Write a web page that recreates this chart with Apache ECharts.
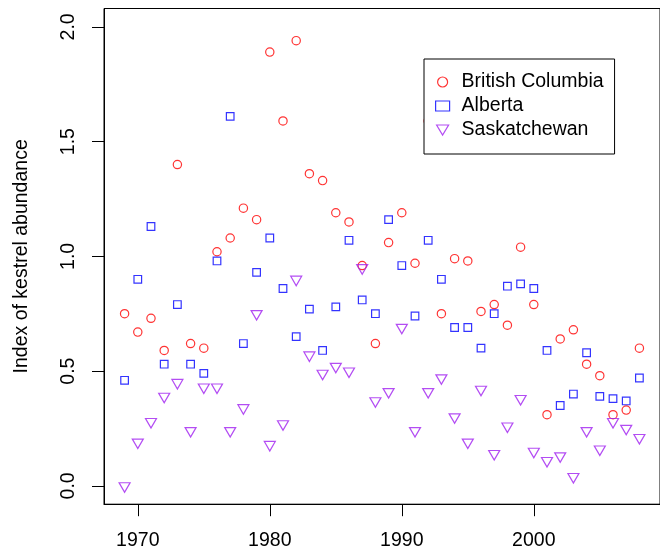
<!DOCTYPE html>
<html>
<head>
<meta charset="utf-8">
<script src="https://cdn.jsdelivr.net/npm/echarts@6/dist/echarts.min.js"></script>
<style>
  html, body { margin: 0; padding: 0; background: #fff; }
  #chart { width: 660px; height: 552px; }
</style>
</head>
<body>
<div id="chart"></div>
<script>
// Survey years
const years = [
  1969, 1970, 1971, 1972, 1973, 1974, 1975, 1976, 1977, 1978,
  1979, 1980, 1981, 1982, 1983, 1984, 1985, 1986, 1987, 1988,
  1989, 1990, 1991, 1992, 1993, 1994, 1995, 1996, 1997, 1998,
  1999, 2000, 2001, 2002, 2003, 2004, 2005, 2006, 2007, 2008
];

// Index of kestrel abundance by province
const britishColumbia = [
  0.75, 0.67, 0.73, 0.59, 1.40, 0.62, 0.60, 1.02, 1.08, 1.21,
  1.16, 1.89, 1.59, 1.94, 1.36, 1.33, 1.19, 1.15, 0.96, 0.62,
  1.06, 1.19, 0.97, 1.59, 0.75, 0.99, 0.98, 0.76, 0.79, 0.70,
  1.04, 0.79, 0.31, 0.64, 0.68, 0.53, 0.48, 0.31, 0.33, 0.60
];
const alberta = [
  0.46, 0.90, 1.13, 0.53, 0.79, 0.53, 0.49, 0.98, 1.61, 0.62,
  0.93, 1.08, 0.86, 0.65, 0.77, 0.59, 0.78, 1.07, 0.81, 0.75,
  1.16, 0.96, 0.74, 1.07, 0.90, 0.69, 0.69, 0.60, 0.75, 0.87,
  0.88, 0.86, 0.59, 0.35, 0.40, 0.58, 0.39, 0.38, 0.37, 0.47
];
const saskatchewan = [
  0.00, 0.19, 0.28, 0.39, 0.45, 0.24, 0.43, 0.43, 0.24, 0.34,
  0.75, 0.18, 0.27, 0.90, 0.57, 0.49, 0.52, 0.50, 0.95, 0.37,
  0.41, 0.69, 0.24, 0.41, 0.47, 0.30, 0.19, 0.42, 0.14, 0.26,
  0.38, 0.15, 0.11, 0.13, 0.04, 0.24, 0.16, 0.28, 0.25, 0.21
];

// Axis tick labels
const xTicks = [1970, 1980, 1990, 2000];
const yTicks = [0, 0.5, 1, 1.5, 2];

const seriesNames = ['British Columbia', 'Alberta', 'Saskatchewan'];

const FONT = "'Liberation Sans', Arial, Helvetica, sans-serif";
const RED = '#FF0000';
const BLUE = '#0000FF';
const PURPLE = '#A020F0';
const TRIANGLE_DOWN = 'path://M0,0L12,0L6,10Z';

function pairs(values) {
  return years.map((y, i) => [y, values[i]]);
}

function hollow(color) {
  return { color: 'transparent', borderColor: color, borderWidth: 1.2 };
}

const chart = echarts.init(document.getElementById('chart'), null, { renderer: 'canvas' });

chart.setOption({
  animation: false,
  backgroundColor: '#fff',
  textStyle: { fontFamily: FONT },
  grid: {
    left: 104,
    top: 8.5,
    width: 566.5,
    height: 495.7,
    show: true,
    borderColor: '#000',
    borderWidth: 1,
    backgroundColor: 'transparent',
    containLabel: false
  },
  xAxis: {
    type: 'value',
    min: 1967.44,
    max: 2009.56,
    splitLine: { show: false },
    axisLine: { show: true, onZero: false, lineStyle: { color: '#000', width: 1 } },
    axisTick: { show: true, inside: false, length: 12, customValues: xTicks, lineStyle: { color: '#000', width: 1 } },
    axisLabel: {
      customValues: xTicks,
      margin: 26,
      color: '#000',
      fontSize: 19.5,
      fontFamily: FONT,
      formatter: v => String(v)
    }
  },
  yAxis: {
    type: 'value',
    min: -0.08,
    max: 2.08,
    name: 'Index of kestrel abundance',
    nameLocation: 'middle',
    nameGap: 72,
    nameTextStyle: { color: '#000', fontSize: 19.5, fontFamily: FONT },
    splitLine: { show: false },
    axisLine: { show: true, onZero: false, lineStyle: { color: '#000', width: 1 } },
    axisTick: { show: true, inside: false, length: 12, customValues: yTicks, lineStyle: { color: '#000', width: 1 } },
    axisLabel: {
      customValues: yTicks,
      rotate: 90,
      margin: 25,
      color: '#000',
      fontSize: 19.5,
      fontFamily: FONT,
      formatter: v => v.toFixed(1)
    }
  },
  legend: {
    orient: 'vertical',
    left: 424,
    top: 59,
    padding: [11, 11, 12, 11],
    itemGap: 0,
    itemWidth: 14,
    itemHeight: 10,
    borderColor: '#000',
    borderWidth: 1,
    backgroundColor: '#fff',
    selectedMode: false,
    textStyle: {
      color: '#000',
      fontSize: 19.5,
      fontFamily: FONT,
      lineHeight: 24,
      padding: [0, 0, 0, 7]
    },
    data: [
      { name: seriesNames[0], icon: 'circle', itemStyle: hollow(RED) },
      { name: seriesNames[1], icon: 'rect', itemStyle: hollow(BLUE) },
      { name: seriesNames[2], icon: TRIANGLE_DOWN, itemStyle: hollow(PURPLE) }
    ]
  },
  series: [
    {
      name: seriesNames[0],
      type: 'scatter',
      data: pairs(britishColumbia),
      symbol: 'circle',
      symbolSize: 8.3,
      itemStyle: hollow(RED),
      clip: false,
      emphasis: { disabled: true }
    },
    {
      name: seriesNames[1],
      type: 'scatter',
      data: pairs(alberta),
      symbol: 'rect',
      symbolSize: 7.6,
      itemStyle: hollow(BLUE),
      clip: false,
      emphasis: { disabled: true }
    },
    {
      name: seriesNames[2],
      type: 'scatter',
      data: pairs(saskatchewan),
      symbol: TRIANGLE_DOWN,
      symbolSize: [11, 9.5],
      symbolOffset: [0, 1.6],
      itemStyle: hollow(PURPLE),
      clip: false,
      emphasis: { disabled: true }
    }
  ]
});
</script>
</body>
</html>
